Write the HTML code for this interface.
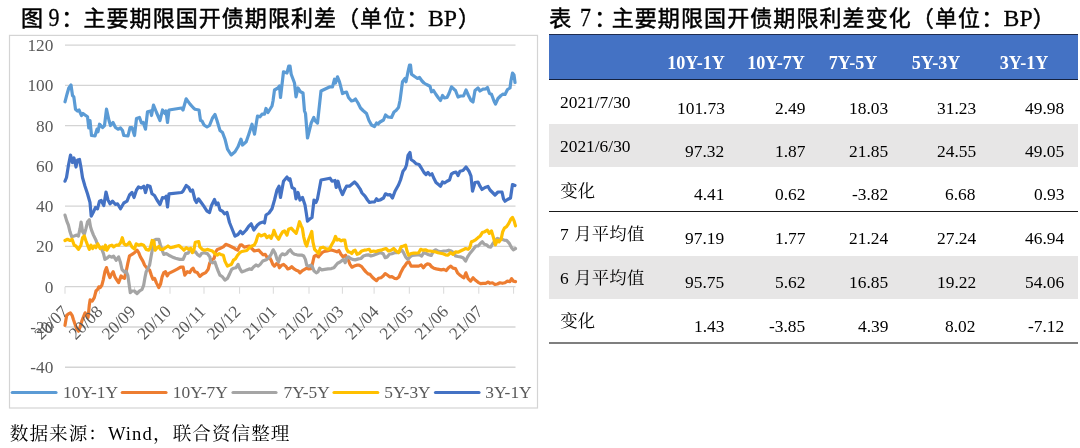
<!DOCTYPE html>
<html lang="zh"><head><meta charset="utf-8"><title>主要期限国开债期限利差</title>
<style>
html,body{margin:0;padding:0;background:#fff;}
body{width:1080px;height:448px;position:relative;overflow:hidden;font-family:"Liberation Serif",serif;color:#000;}
svg{position:absolute;left:0;top:0;}
body>*{will-change:transform;}
.ax{font-family:"Liberation Serif",serif;font-size:17.3px;fill:#595959;}
.lg{font-family:"Liberation Serif",serif;font-size:17.4px;fill:#595959;}
.sr{position:absolute;width:1px;height:1px;overflow:hidden;clip:rect(0 0 0 0);clip-path:inset(50%);white-space:nowrap;}
.tt text{font-family:"Liberation Serif",serif;font-size:22px;fill:#000;stroke:#000;stroke-width:.25px;}
.tc text{font-family:"Liberation Sans","Noto Sans CJK SC",sans-serif;font-size:22px;fill:#000;stroke:#000;stroke-width:.5px;}
.sc text{font-family:"Liberation Serif","Noto Serif CJK SC",serif;fill:#000;}
.band{position:absolute;left:548.8px;width:528.8px;}
.h{position:absolute;top:53.1px;margin-left:-0.7px;width:100px;text-align:center;font-weight:bold;font-size:18.1px;line-height:20px;color:#fff;white-space:nowrap;}
.n{position:absolute;font-size:17.4px;line-height:20px;margin-top:-16.1px;white-space:nowrap;}
.l{position:absolute;font-size:17.4px;line-height:20px;margin-top:-15.8px;white-space:nowrap;}
.w{position:absolute;left:107.8px;top:423.2px;font-size:18.6px;line-height:22px;letter-spacing:1.05px;white-space:nowrap;}
</style></head><body>
<h1 class="sr">图 9：主要期限国开债期限利差（单位：BP）</h1>
<h1 class="sr">表 7：主要期限国开债期限利差变化（单位：BP）</h1>
<p class="sr">变化 7 月平均值 6 月平均值 变化 数据来源：Wind，联合资信整理</p>
<div class="band" style="top:34.4px;height:45.6px;background:#4472C4;border-top:1px solid #1f2d50;border-bottom:1.2px solid #14213f;box-sizing:border-box"></div>
<div class="band" style="top:124.3px;height:42.5px;background:#E7E6E6"></div>
<div class="band" style="top:255.8px;height:42.5px;background:#E7E6E6"></div>
<div class="band" style="top:210.6px;height:1.4px;background:#1a1a1a"></div>
<div class="band" style="top:342.2px;height:1.6px;background:#7F7F7F"></div>
<svg width="1080" height="448" viewBox="0 0 1080 448" role="img" aria-label="主要期限国开债期限利差">
<rect x="9.5" y="35.4" width="528" height="372.6" fill="#fff" stroke="#D4D4D4" stroke-width="1.2"/>
<line x1="65" y1="45.10" x2="515.5" y2="45.10" stroke="#D4D4D4" stroke-width="1.3"/>
<line x1="65" y1="85.37" x2="515.5" y2="85.37" stroke="#D4D4D4" stroke-width="1.3"/>
<line x1="65" y1="125.64" x2="515.5" y2="125.64" stroke="#D4D4D4" stroke-width="1.3"/>
<line x1="65" y1="165.91" x2="515.5" y2="165.91" stroke="#D4D4D4" stroke-width="1.3"/>
<line x1="65" y1="206.18" x2="515.5" y2="206.18" stroke="#D4D4D4" stroke-width="1.3"/>
<line x1="65" y1="246.45" x2="515.5" y2="246.45" stroke="#D4D4D4" stroke-width="1.3"/>
<line x1="65" y1="286.72" x2="515.5" y2="286.72" stroke="#D4D4D4" stroke-width="1.3"/>
<line x1="65" y1="326.99" x2="515.5" y2="326.99" stroke="#D4D4D4" stroke-width="1.3"/>
<line x1="65" y1="367.26" x2="515.5" y2="367.26" stroke="#D4D4D4" stroke-width="1.3"/>
<line x1="65.00" y1="286.72" x2="65.00" y2="293.72" stroke="#D9D9D9" stroke-width="1"/>
<line x1="99.50" y1="286.72" x2="99.50" y2="293.72" stroke="#D9D9D9" stroke-width="1"/>
<line x1="134.50" y1="286.72" x2="134.50" y2="293.72" stroke="#D9D9D9" stroke-width="1"/>
<line x1="170.00" y1="286.72" x2="170.00" y2="293.72" stroke="#D9D9D9" stroke-width="1"/>
<line x1="204.00" y1="286.72" x2="204.00" y2="293.72" stroke="#D9D9D9" stroke-width="1"/>
<line x1="239.60" y1="286.72" x2="239.60" y2="293.72" stroke="#D9D9D9" stroke-width="1"/>
<line x1="273.30" y1="286.72" x2="273.30" y2="293.72" stroke="#D9D9D9" stroke-width="1"/>
<line x1="309.00" y1="286.72" x2="309.00" y2="293.72" stroke="#D9D9D9" stroke-width="1"/>
<line x1="342.40" y1="286.72" x2="342.40" y2="293.72" stroke="#D9D9D9" stroke-width="1"/>
<line x1="374.10" y1="286.72" x2="374.10" y2="293.72" stroke="#D9D9D9" stroke-width="1"/>
<line x1="409.30" y1="286.72" x2="409.30" y2="293.72" stroke="#D9D9D9" stroke-width="1"/>
<line x1="443.70" y1="286.72" x2="443.70" y2="293.72" stroke="#D9D9D9" stroke-width="1"/>
<line x1="478.80" y1="286.72" x2="478.80" y2="293.72" stroke="#D9D9D9" stroke-width="1"/>
<line x1="513.60" y1="286.72" x2="513.60" y2="293.72" stroke="#D9D9D9" stroke-width="1"/>
<text x="53.3" y="51.00" text-anchor="end" class="ax">120</text>
<text x="53.3" y="91.27" text-anchor="end" class="ax">100</text>
<text x="53.3" y="131.54" text-anchor="end" class="ax">80</text>
<text x="53.3" y="171.81" text-anchor="end" class="ax">60</text>
<text x="53.3" y="212.08" text-anchor="end" class="ax">40</text>
<text x="53.3" y="252.35" text-anchor="end" class="ax">20</text>
<text x="53.3" y="292.62" text-anchor="end" class="ax">0</text>
<text x="53.3" y="332.89" text-anchor="end" class="ax">-20</text>
<text x="53.3" y="373.16" text-anchor="end" class="ax">-40</text>
<polyline points="65.0,101.8 67.0,94.2 68.8,88.0 71.0,85.0 72.5,95.5 73.8,96.8 75.5,109.2 77.5,111.0 79.0,110.0 81.5,115.5 83.0,113.5 85.0,115.0 87.5,116.8 88.8,128.0 90.0,120.5 91.5,135.5 95.0,136.0 97.0,129.2 98.0,131.8 99.5,124.2 102.5,127.5 104.5,125.5 106.5,109.2 109.0,120.5 110.5,125.5 113.0,122.5 115.5,127.5 118.0,129.2 120.5,128.0 122.5,130.5 123.8,135.5 128.0,136.0 130.0,127.5 132.0,127.5 134.5,135.5 136.5,118.5 139.5,117.5 141.5,123.0 143.2,122.5 145.5,129.2 147.5,111.8 150.5,111.0 151.5,115.5 153.5,105.0 156.5,112.5 160.0,120.5 162.5,110.0 165.0,113.5 166.0,111.0 167.5,122.5 169.0,110.0 181.5,108.0 183.0,110.0 186.2,98.8 190.0,104.2 193.5,108.0 195.0,109.2 199.0,110.0 200.5,120.5 202.0,121.0 204.0,125.0 207.0,127.0 209.5,125.5 212.5,118.0 215.0,114.5 217.0,120.5 220.0,130.5 222.5,132.5 225.0,139.2 227.5,149.2 231.2,155.0 235.0,151.8 238.0,146.8 241.0,139.2 242.5,145.0 246.2,141.8 248.8,134.2 252.0,124.2 254.5,134.2 257.5,116.0 260.0,116.8 262.0,114.2 264.5,114.2 266.0,108.5 268.0,112.5 272.0,106.0 273.0,101.0 274.5,90.0 278.0,88.0 279.5,86.0 280.5,97.5 283.5,71.8 287.0,73.0 288.8,66.0 290.0,66.0 291.2,74.2 294.5,83.0 296.0,96.8 298.0,88.0 300.5,91.8 303.0,93.0 304.5,111.0 305.5,113.5 307.5,138.0 311.2,123.0 313.8,117.5 315.0,120.5 317.5,123.0 321.0,91.0 330.0,86.8 332.5,86.8 334.5,79.2 335.5,83.0 337.5,76.8 339.5,81.8 342.5,93.5 344.5,92.5 346.5,92.0 348.5,97.5 351.5,101.0 353.5,100.5 355.5,99.0 358.0,103.0 360.5,108.0 363.0,110.5 366.5,113.5 369.0,120.5 371.5,125.0 374.5,126.5 376.5,123.0 378.0,124.0 380.0,122.0 383.5,120.0 385.5,115.0 388.0,117.0 391.5,117.5 394.0,112.0 396.0,110.5 398.5,107.5 400.0,100.5 402.5,81.8 405.0,78.5 406.0,81.8 408.0,71.8 409.5,65.0 410.5,65.0 411.5,74.2 415.0,76.8 417.5,78.5 419.5,77.5 422.0,81.0 424.0,83.0 426.5,84.5 430.0,86.2 431.5,91.8 433.5,90.5 436.0,94.5 438.5,98.0 440.5,100.5 442.5,95.5 444.5,98.0 447.0,97.5 449.0,93.5 451.5,86.8 454.0,89.2 455.5,90.5 458.0,97.0 460.5,96.0 463.5,96.0 466.0,90.0 468.5,95.5 471.0,100.5 473.0,102.0 475.0,90.5 478.0,88.0 480.0,91.0 483.0,89.2 486.0,88.8 487.5,87.5 489.5,93.5 491.5,94.2 494.0,101.0 495.5,104.0 498.0,98.5 501.0,95.5 503.0,94.2 505.0,94.5 507.5,89.5 510.0,88.0 511.0,80.5 512.5,73.0 514.0,75.0 515.0,82.5" fill="none" stroke="#5B9BD5" stroke-width="3.2" stroke-linejoin="round" stroke-linecap="round"/>
<polyline points="65.0,325.3 66.7,315.3 68.4,313.9 70.4,312.8 72.1,315.3 73.4,319.5 75.4,325.3 76.7,328.7 78.4,331.2 80.1,327.0 81.8,321.1 83.4,317.0 85.1,312.8 86.8,315.3 88.1,317.3 89.3,305.2 90.1,299.9 92.2,301.1 94.3,297.7 96.0,291.0 97.7,289.3 98.8,286.8 100.2,287.6 101.9,285.1 103.2,280.1 104.9,271.7 106.5,267.6 108.2,273.4 109.9,277.6 111.1,274.8 113.2,271.7 114.9,276.8 116.9,280.1 118.6,282.6 119.6,280.1 121.1,275.9 122.8,277.6 124.5,278.4 126.1,271.7 127.8,263.4 129.5,255.8 132.0,254.4 134.5,252.7 137.0,250.2 138.7,252.7 140.4,256.9 142.9,261.1 144.6,265.1 147.1,268.4 149.6,270.1 151.3,275.1 152.9,279.3 154.6,278.4 156.3,282.6 158.8,287.6 160.5,284.3 162.1,276.8 163.8,272.6 165.5,271.7 167.2,275.9 168.8,273.4 173.9,270.9 177.2,269.2 180.6,267.1 183.1,267.1 184.8,275.1 187.3,271.7 189.8,272.6 191.4,269.7 193.1,268.1 194.8,271.7 197.3,272.6 199.8,276.4 202.3,274.3 205.7,272.6 208.2,269.2 209.9,262.5 211.5,260.0 214.1,258.4 215.7,251.9 217.4,249.4 219.9,248.5 223.3,246.9 225.8,244.3 228.3,245.2 233.4,247.7 235.9,249.3 237.6,250.2 240.1,245.1 241.8,244.8 244.3,247.2 246.8,246.5 249.3,246.0 251.8,248.5 254.3,251.0 256.5,250.5 258.9,250.2 261.0,252.7 263.2,254.8 265.2,254.3 267.2,257.7 269.4,256.9 271.1,260.2 272.8,264.4 274.4,266.1 276.6,263.6 278.3,264.4 279.4,267.8 281.6,265.2 283.6,264.4 285.6,266.1 287.8,268.9 290.0,268.2 291.7,266.6 293.7,268.6 296.2,270.3 298.4,271.1 300.0,272.8 302.4,270.6 304.6,269.4 306.7,268.2 308.8,268.9 311.3,268.6 312.9,261.9 314.1,256.5 316.3,255.2 318.5,256.9 320.1,254.8 322.1,252.7 324.1,251.5 327.2,251.0 329.7,250.2 332.2,250.2 334.7,251.0 336.9,251.8 338.9,250.5 340.9,254.3 343.1,256.9 345.6,255.2 347.3,258.9 348.4,260.2 350.0,264.4 352.0,267.2 354.2,266.1 356.7,265.2 359.2,265.2 361.7,266.6 363.8,269.4 365.9,271.9 368.1,273.9 370.1,274.4 372.1,277.0 374.3,279.0 376.5,280.6 378.5,278.3 381.0,277.8 383.2,276.1 385.2,273.6 387.7,275.3 389.9,277.0 391.9,276.6 394.4,278.3 396.9,278.6 398.9,277.0 401.1,271.9 403.3,267.8 405.3,265.2 407.0,262.7 409.0,261.9 411.1,266.1 413.6,266.1 416.2,266.1 418.7,266.1 421.2,264.9 423.4,267.8 425.4,265.2 427.4,263.9 429.6,264.4 431.7,266.9 433.8,268.2 436.3,268.9 438.8,269.4 441.3,269.9 443.8,269.4 446.3,270.6 448.5,267.8 450.8,266.1 453.0,268.2 455.5,268.6 457.5,272.8 459.7,274.9 461.9,276.6 463.9,277.8 465.9,272.8 468.1,278.6 470.6,281.1 473.1,277.8 475.6,280.3 478.1,282.3 480.6,283.6 483.1,283.3 485.7,283.3 488.2,282.0 489.8,283.3 492.4,282.8 494.9,284.5 497.4,284.0 499.9,282.8 502.4,283.3 504.9,282.8 507.4,281.1 509.9,281.6 511.6,278.6 513.3,281.1 515.5,281.6" fill="none" stroke="#ED7D31" stroke-width="3.2" stroke-linejoin="round" stroke-linecap="round"/>
<polyline points="65.0,215.1 66.7,220.9 68.4,225.1 70.0,231.8 71.7,236.8 74.2,236.0 76.7,235.1 78.4,236.0 80.1,228.4 81.1,222.1 82.6,231.8 84.3,234.3 86.0,228.4 87.6,221.7 89.3,219.7 90.5,226.8 91.8,230.9 93.5,235.1 96.0,240.2 97.7,245.2 101.9,249.4 103.5,253.6 104.9,259.4 106.9,258.2 109.4,256.1 111.9,257.2 113.6,256.1 116.1,260.3 118.6,256.9 120.3,261.9 122.0,269.5 124.5,272.0 126.1,271.1 127.8,275.3 129.0,283.5 130.3,292.7 132.0,291.0 134.5,291.0 137.0,293.5 139.5,291.0 142.1,289.3 143.7,285.1 145.1,276.8 146.2,271.7 147.9,268.4 149.6,265.1 151.3,255.2 152.9,246.9 154.1,240.2 156.3,239.3 158.8,239.3 160.5,245.2 162.1,250.2 163.8,254.4 166.3,253.6 168.8,255.2 172.2,256.9 175.5,258.2 179.7,259.4 183.1,259.4 185.6,253.6 188.1,253.2 189.8,250.2 192.3,251.1 194.0,251.9 195.6,251.9 197.3,254.4 199.8,256.1 201.5,253.6 204.0,252.7 207.3,253.6 209.9,256.9 210.7,261.9 212.7,262.8 214.9,261.9 216.6,267.0 218.2,271.1 219.9,275.1 222.4,276.8 224.9,280.1 227.4,278.4 229.1,275.1 229.7,273.6 231.7,269.4 233.7,268.2 235.9,267.8 238.1,264.4 239.8,268.6 241.8,271.9 244.3,271.1 246.8,269.9 249.3,268.9 251.5,269.4 253.5,266.9 256.0,264.9 258.2,266.1 260.2,264.4 262.7,261.1 264.9,260.2 266.9,259.4 268.9,257.7 271.1,254.3 273.2,249.8 275.3,253.5 276.9,258.9 278.6,261.9 280.3,256.0 282.3,253.8 284.5,254.8 286.6,253.8 288.6,251.0 290.3,249.8 292.3,252.7 294.5,254.3 297.0,254.8 299.5,255.2 302.1,255.2 303.7,256.0 305.4,259.4 306.7,265.2 308.8,266.1 310.8,265.2 312.4,266.9 314.1,271.1 316.3,272.8 318.0,271.9 319.6,268.2 321.8,269.9 324.7,269.4 328.0,268.9 331.4,268.6 333.9,267.8 335.9,265.2 337.6,263.2 339.7,262.2 341.9,260.6 343.6,259.4 345.2,262.7 346.9,257.7 348.6,256.9 350.0,258.2 352.5,259.4 355.1,259.9 358.4,258.9 360.9,258.5 363.4,256.0 365.9,255.2 368.4,254.8 370.9,256.0 373.5,255.2 376.0,254.3 378.5,253.2 381.0,252.7 383.2,253.8 385.2,257.7 387.2,256.9 389.4,254.3 391.9,253.8 394.4,252.7 396.9,252.7 399.4,251.8 401.9,250.2 403.6,252.7 405.6,256.9 407.8,259.4 410.0,256.9 412.0,255.5 414.5,255.2 417.0,254.8 419.5,254.8 421.7,256.0 423.7,252.7 426.2,253.5 428.7,254.8 431.2,255.5 433.4,251.0 435.4,249.8 437.9,251.0 440.4,251.8 443.8,251.0 446.3,251.0 448.8,250.2 451.3,251.0 453.8,252.7 455.5,256.0 458.0,256.5 460.5,256.9 463.1,257.7 465.6,261.1 467.6,256.9 469.8,253.5 471.9,251.0 473.9,248.5 475.9,246.0 478.1,246.0 480.3,243.5 482.3,241.8 484.3,244.3 486.5,244.8 488.7,246.8 490.7,247.2 492.4,244.3 494.9,240.9 497.4,238.4 499.4,239.3 501.6,239.3 504.1,240.1 506.6,240.4 509.1,243.1 511.6,247.7 513.3,249.8 515.5,248.5" fill="none" stroke="#A5A5A5" stroke-width="3.2" stroke-linejoin="round" stroke-linecap="round"/>
<polyline points="65.0,240.5 67.5,239.3 70.0,240.5 72.1,239.3 74.2,245.2 75.9,246.0 78.4,249.4 80.9,245.2 82.6,237.7 84.3,236.0 86.0,241.0 87.6,245.2 89.3,249.4 91.0,245.2 92.7,248.5 94.3,246.0 96.0,247.7 97.7,243.8 100.2,248.5 102.7,246.9 104.4,249.4 105.5,245.2 106.9,250.2 109.4,246.0 111.9,245.2 113.6,246.9 116.1,245.2 118.6,245.2 120.6,242.7 122.3,237.7 124.0,243.8 126.1,245.2 127.8,244.3 129.5,242.2 132.0,246.9 134.5,248.9 136.2,243.8 138.7,245.2 141.2,244.3 143.7,245.2 146.2,249.4 148.8,250.2 150.4,247.7 152.1,240.5 153.8,241.0 155.1,250.2 157.1,247.7 158.8,246.5 160.5,249.4 163.0,249.4 165.5,247.7 168.0,246.0 170.5,247.7 173.9,246.9 178.9,245.5 181.4,247.7 183.9,250.2 186.4,247.7 188.9,249.4 190.6,248.2 192.3,252.7 194.0,249.4 195.3,242.2 198.7,241.5 199.8,246.9 202.3,249.4 204.8,250.2 207.3,249.4 209.9,250.2 212.4,251.1 214.9,253.6 217.4,255.2 219.1,253.6 220.8,254.4 223.3,255.2 224.9,261.1 227.4,266.1 229.2,265.2 231.4,264.4 233.4,260.2 235.4,258.9 237.6,255.2 239.8,252.7 241.8,251.5 244.3,251.0 246.8,250.5 249.3,247.7 251.8,246.0 254.3,245.1 256.0,241.8 257.7,235.9 258.9,234.3 261.0,235.9 263.2,235.1 264.9,234.3 266.9,237.6 269.4,235.9 271.1,238.4 273.2,233.4 273.9,230.4 276.1,235.9 278.6,239.3 280.6,235.1 282.8,231.7 284.5,230.9 287.0,235.1 288.6,229.2 291.2,228.1 293.7,230.9 296.2,233.4 297.9,227.6 299.5,221.7 301.2,225.9 302.4,228.4 303.7,236.8 305.4,243.5 306.7,246.0 308.4,240.1 310.4,235.1 311.8,231.4 312.9,241.8 314.6,249.3 316.3,251.0 318.5,253.5 320.5,247.7 323.0,247.2 325.5,248.5 328.0,249.3 329.7,248.5 331.9,244.3 333.9,240.9 335.5,236.4 337.2,240.1 339.2,239.3 340.9,240.9 343.1,240.1 344.8,240.1 346.4,248.5 348.1,251.8 349.2,251.8 351.7,253.5 353.4,251.0 355.1,250.2 357.1,254.3 359.2,253.5 361.7,251.0 364.3,250.2 366.8,249.8 369.3,249.3 370.9,251.8 373.5,251.0 376.0,251.5 378.5,250.5 381.0,250.2 383.5,249.3 386.0,248.5 388.5,251.0 391.1,250.2 393.6,248.5 396.1,251.0 398.6,252.7 401.1,246.8 403.6,246.0 405.6,245.1 407.0,251.0 408.6,255.2 411.1,253.5 413.6,253.2 416.2,253.2 418.7,252.7 420.7,249.3 422.9,250.2 425.4,249.8 427.9,251.0 430.4,251.0 432.9,251.5 435.4,251.8 437.9,252.7 440.4,253.2 443.0,253.8 445.5,254.8 448.0,255.2 450.5,252.7 453.0,254.3 455.5,251.8 458.0,252.2 460.5,251.0 463.1,249.8 465.6,248.5 468.1,249.3 469.8,247.7 471.4,241.8 473.6,240.9 475.6,239.8 478.1,237.6 480.3,235.9 482.3,232.6 484.8,231.7 487.3,230.1 489.3,233.4 491.5,230.9 493.7,238.4 495.4,244.8 497.4,240.1 499.1,241.8 501.1,239.3 502.7,231.7 504.4,228.1 506.6,226.7 508.8,223.4 510.8,219.2 512.5,217.5 514.1,220.9 515.5,225.9" fill="none" stroke="#FFC000" stroke-width="3.2" stroke-linejoin="round" stroke-linecap="round"/>
<polyline points="65.0,181.2 66.5,177.5 68.5,165.0 70.5,155.0 72.5,162.5 74.0,158.0 76.0,167.0 77.5,160.0 79.5,159.5 81.0,167.5 82.5,177.5 85.0,186.2 87.5,193.8 90.0,202.5 91.2,216.2 93.8,211.2 95.5,207.5 97.5,208.8 99.5,201.2 101.2,200.5 103.8,205.5 106.0,192.0 108.0,200.0 110.0,203.8 112.5,201.2 115.5,204.5 117.5,203.8 120.5,208.8 123.8,203.0 127.0,201.2 129.5,195.0 132.0,192.5 134.0,197.5 136.5,190.0 138.5,187.0 141.2,188.0 143.8,186.2 145.5,192.5 147.5,185.5 150.0,186.2 152.0,193.8 154.5,195.5 157.0,200.0 160.0,204.5 162.5,197.5 165.0,198.0 166.2,196.2 167.5,207.0 169.0,193.8 181.5,192.5 183.0,191.2 186.2,185.5 188.8,187.5 190.5,191.2 192.5,190.0 195.0,200.0 196.5,202.5 198.5,198.8 201.2,202.5 203.8,206.2 207.0,211.2 209.5,212.5 211.5,205.5 214.5,199.5 216.2,204.5 218.0,203.0 220.0,210.0 222.5,211.2 224.5,213.8 227.0,212.5 229.5,222.5 232.5,230.0 235.0,236.2 238.0,234.5 240.5,231.2 242.5,233.8 246.2,230.0 248.8,226.2 251.2,223.8 253.8,230.0 257.5,225.0 260.0,223.0 263.0,222.0 264.5,223.0 266.0,215.0 269.0,213.0 272.0,208.8 274.5,200.0 277.0,190.0 279.0,186.2 280.5,197.5 283.5,181.2 287.0,177.0 288.8,180.0 290.0,178.8 292.0,187.5 294.5,188.8 296.0,198.8 298.0,192.5 300.0,200.0 302.5,197.5 305.0,205.0 306.2,212.5 307.5,221.2 310.0,218.8 312.0,217.5 314.0,200.0 316.0,202.5 317.5,198.8 321.0,180.0 330.0,178.2 332.0,181.2 335.0,180.5 336.2,187.5 338.0,181.2 340.0,188.8 342.5,194.5 344.5,190.0 346.5,186.2 349.5,186.2 351.5,184.5 354.5,182.0 357.0,184.5 360.0,188.8 362.0,193.0 365.0,196.2 367.5,200.0 369.5,202.5 372.0,202.0 374.5,202.0 376.5,198.8 378.0,200.5 380.0,200.0 383.5,198.0 385.5,193.8 388.0,195.0 390.0,194.5 392.5,198.0 395.0,191.2 398.5,185.0 400.5,180.0 403.0,171.2 405.0,168.8 406.5,165.0 408.0,155.5 410.0,152.5 411.0,159.5 413.5,161.2 416.2,163.8 419.0,164.5 421.0,167.5 424.0,172.5 426.0,174.5 428.0,172.5 430.0,175.0 432.0,173.8 433.5,177.5 436.0,182.5 438.5,184.5 440.5,186.2 442.5,182.0 444.5,183.0 447.0,181.2 449.5,180.0 451.5,173.8 454.0,172.5 456.0,172.0 458.0,175.5 460.0,171.2 463.0,170.5 466.0,167.0 469.0,171.2 471.0,176.2 472.5,191.2 475.0,182.5 478.0,182.0 480.0,186.2 482.0,189.5 485.0,187.5 488.0,186.5 490.0,190.0 492.5,192.5 495.0,195.0 498.0,192.0 502.0,192.0 503.5,198.8 505.0,201.2 507.5,199.5 510.5,198.0 512.5,184.5 515.0,185.5" fill="none" stroke="#4472C4" stroke-width="3.2" stroke-linejoin="round" stroke-linecap="round"/>
<text transform="translate(69.00,312.72) rotate(-45)" text-anchor="end" class="ax">20/07</text>
<text transform="translate(103.53,312.72) rotate(-45)" text-anchor="end" class="ax">20/08</text>
<text transform="translate(136.56,312.72) rotate(-45)" text-anchor="end" class="ax">20/09</text>
<text transform="translate(172.19,312.72) rotate(-45)" text-anchor="end" class="ax">20/10</text>
<text transform="translate(206.42,312.72) rotate(-45)" text-anchor="end" class="ax">20/11</text>
<text transform="translate(241.65,312.72) rotate(-45)" text-anchor="end" class="ax">20/12</text>
<text transform="translate(277.58,312.72) rotate(-45)" text-anchor="end" class="ax">21/01</text>
<text transform="translate(313.51,312.72) rotate(-45)" text-anchor="end" class="ax">21/02</text>
<text transform="translate(344.74,312.72) rotate(-45)" text-anchor="end" class="ax">21/03</text>
<text transform="translate(379.77,312.72) rotate(-45)" text-anchor="end" class="ax">21/04</text>
<text transform="translate(414.30,312.72) rotate(-45)" text-anchor="end" class="ax">21/05</text>
<text transform="translate(449.33,312.72) rotate(-45)" text-anchor="end" class="ax">21/06</text>
<text transform="translate(483.86,312.72) rotate(-45)" text-anchor="end" class="ax">21/07</text>
<line x1="12.25" y1="392.50" x2="56.00" y2="392.50" stroke="#5B9BD5" stroke-width="3.2" stroke-linecap="round"/>
<text x="63.00" y="398.40" class="lg">10Y-1Y</text>
<line x1="122.25" y1="392.50" x2="166.00" y2="392.50" stroke="#ED7D31" stroke-width="3.2" stroke-linecap="round"/>
<text x="172.80" y="398.40" class="lg">10Y-7Y</text>
<line x1="233.00" y1="392.50" x2="276.00" y2="392.50" stroke="#A5A5A5" stroke-width="3.2" stroke-linecap="round"/>
<text x="283.50" y="398.40" class="lg">7Y-5Y</text>
<line x1="334.00" y1="392.50" x2="377.75" y2="392.50" stroke="#FFC000" stroke-width="3.2" stroke-linecap="round"/>
<text x="384.30" y="398.40" class="lg">5Y-3Y</text>
<line x1="435.50" y1="392.50" x2="479.00" y2="392.50" stroke="#4472C4" stroke-width="3.2" stroke-linecap="round"/>
<text x="485.30" y="398.40" class="lg">3Y-1Y</text>

<g class="tt">
<text transform="translate(48.6,26.3) scale(1,1.12)">9</text>
<text transform="translate(580,26.3) scale(1,1.12)">7</text>
<text transform="translate(427.9,25.6) scale(1.08,1.02)">BP</text>
<text transform="translate(1003.6,25.6) scale(1.08,1.02)">BP</text>
</g>
<g class="tc">
<text x="21" y="25.6">图</text>
<text x="61.3" y="25.6">：</text>
<text x="83.5" y="25.6" letter-spacing="1.05">主要期限国开债期限利差（单位：</text>
<text x="458" y="25.6">）</text>
<text x="549.3" y="25.6">表</text>
<text x="594.2" y="25.6">：</text>
<text x="611.7" y="25.6" letter-spacing="1.09">主要期限国开债期限利差变化（单位：</text>
<text x="1032.7" y="25.6">）</text>
</g>
<g class="sc">
<text x="9.8" y="440" font-size="18.6" letter-spacing="1.05">数据来源：</text>
<text x="153" y="440" font-size="18.6" letter-spacing="1.05">，联合资信整理</text>
<text x="560.3" y="196.6" font-size="17.4">变化</text>
<text x="574.2" y="240" font-size="17.4" letter-spacing="0.2">月平均值</text>
<text x="574.2" y="283.8" font-size="17.4" letter-spacing="0.2">月平均值</text>
<text x="560.3" y="326.9" font-size="17.4">变化</text>
</g>
</svg>
<div class="h" style="left:646.3px">10Y-1Y</div><div class="h" style="left:727.0px">10Y-7Y</div><div class="h" style="left:804.0px">7Y-5Y</div><div class="h" style="left:886.9px">5Y-3Y</div><div class="h" style="left:974.4px">3Y-1Y</div><div class="n" style="right:355.6px;top:113.75px">101.73</div><div class="n" style="right:274.8px;top:113.75px">2.49</div><div class="n" style="right:191.8px;top:113.75px">18.03</div><div class="n" style="right:104.1px;top:113.75px">31.23</div><div class="n" style="right:15.4px;top:113.75px">49.98</div><div class="l" style="left:560.3px;top:108.25px">2021/7/30</div><div class="n" style="right:355.6px;top:157.10px">97.32</div><div class="n" style="right:274.8px;top:157.10px">1.87</div><div class="n" style="right:191.8px;top:157.10px">21.85</div><div class="n" style="right:104.1px;top:157.10px">24.55</div><div class="n" style="right:15.4px;top:157.10px">49.05</div><div class="l" style="left:560.3px;top:151.75px">2021/6/30</div><div class="n" style="right:355.6px;top:199.80px">4.41</div><div class="n" style="right:274.8px;top:199.80px">0.62</div><div class="n" style="right:191.8px;top:199.80px">-3.82</div><div class="n" style="right:104.1px;top:199.80px">6.68</div><div class="n" style="right:15.4px;top:199.80px">0.93</div><div class="n" style="right:355.6px;top:243.70px">97.19</div><div class="n" style="right:274.8px;top:243.70px">1.77</div><div class="n" style="right:191.8px;top:243.70px">21.24</div><div class="n" style="right:104.1px;top:243.70px">27.24</div><div class="n" style="right:15.4px;top:243.70px">46.94</div><div class="l" style="left:560.3px;top:239.60px">7</div><div class="n" style="right:355.6px;top:288.00px">95.75</div><div class="n" style="right:274.8px;top:288.00px">5.62</div><div class="n" style="right:191.8px;top:288.00px">16.85</div><div class="n" style="right:104.1px;top:288.00px">19.22</div><div class="n" style="right:15.4px;top:288.00px">54.06</div><div class="l" style="left:560.3px;top:283.70px">6</div><div class="n" style="right:355.6px;top:331.70px">1.43</div><div class="n" style="right:274.8px;top:331.70px">-3.85</div><div class="n" style="right:191.8px;top:331.70px">4.39</div><div class="n" style="right:104.1px;top:331.70px">8.02</div><div class="n" style="right:15.4px;top:331.70px">-7.12</div>
<div class="w">Wind</div>
</body></html>
